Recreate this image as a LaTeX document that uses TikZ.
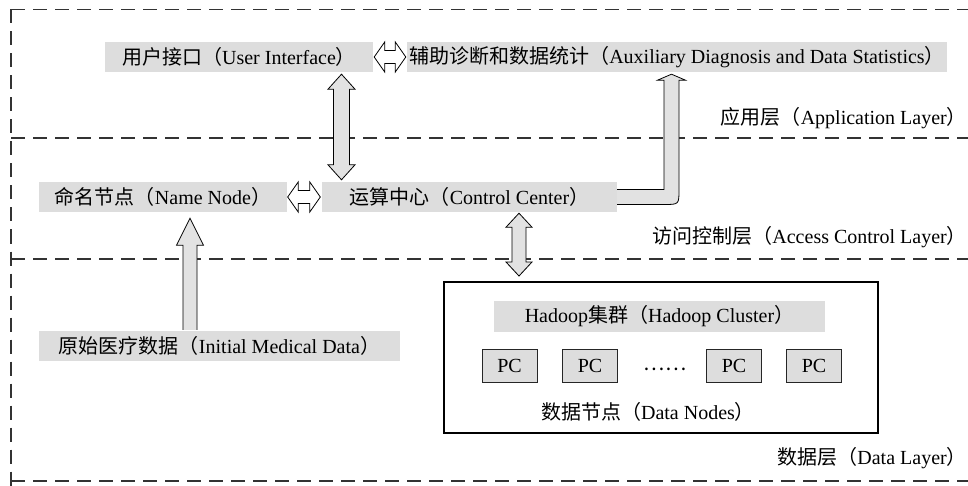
\documentclass[tikz,border=0pt]{standalone}
\usepackage{fontspec}
\setmainfont{Liberation Serif}
\newfontfamily\cjk{Noto Sans CJK SC}
\usetikzlibrary{calc}

\definecolor{boxgrey}{HTML}{DDDDDD}
\definecolor{arrowgrey}{HTML}{E2E2E2}
\definecolor{layergrey}{HTML}{333333}

\newcommand\zh[1]{{\cjk #1}}

% vertical double arrow: #1 x position, #2 upper tip, #3 lower tip,
% #4 shaft half width, #5 head half width, #6 head length
\newcommand\vdarrow[6]{%
  \draw[fatarrow] let \p1=#1, \p2=#2, \p3=#3 in
    (\x1,\y2) -- (\x1+#5,\y2-#6) -- (\x1+#4,\y2-#6) -- (\x1+#4,\y3+#6)
    -- (\x1+#5,\y3+#6) -- (\x1,\y3) -- (\x1-#5,\y3+#6) -- (\x1-#4,\y3+#6)
    -- (\x1-#4,\y2-#6) -- (\x1-#5,\y2-#6) -- cycle;}

% horizontal double arrow between a left tip #1 and a right tip #2
\newcommand\hdarrow[2]{%
  \draw[fatarrow, fill=white] let \p1=#1, \p2=#2 in
    (\x1,\y1) -- (\x1+10.5pt,\y1+15pt) -- (\x1+10.5pt,\y1+6.5pt)
    -- (\x2-10.5pt,\y1+6.5pt) -- (\x2-10.5pt,\y1+15pt) -- (\x2,\y1)
    -- (\x2-10.5pt,\y1-15pt) -- (\x2-10.5pt,\y1-6.5pt)
    -- (\x1+10.5pt,\y1-6.5pt) -- (\x1+10.5pt,\y1-15pt) -- cycle;}

\tikzset{
  x=1pt, y=-1pt,
  layerline/.style={draw=layergrey, line width=1.1pt, dash pattern=on 14pt off 8pt},
  txt/.style={inner sep=0pt, font=\fontsize{20}{24}\selectfont},
  greybox/.style={txt, fill=boxgrey, minimum height=30pt},
  pcbox/.style={txt, fill=boxgrey, draw=black!85, line width=0.8pt,
    minimum width=55pt, minimum height=33pt},
  fatarrow/.style={draw=black, line width=0.8pt, fill=arrowgrey, line join=miter},
}

\begin{document}
\begin{tikzpicture}
\useasboundingbox (0,0) rectangle (968,486);

% layer frame
\draw[layerline] (11,9.5) -- (968,9.5);
\draw[layerline] (11,9.5) -- (11,486);
\draw[layerline] (11,138) -- (968,138);
\draw[layerline] (11,259) -- (968,259);
\draw[layerline] (11,481) -- (968,481);

% layer titles
\node[txt, anchor=east] (lapp) at (967,118) {\zh{应用层（}Application Layer\zh{）}};
\node[txt, anchor=east] (lacc) at (967,237) {\zh{访问控制层（}Access Control Layer\zh{）}};
\node[txt, anchor=east] (ldat) at (967,458) {\zh{数据层（}Data Layer\zh{）}};

% application layer
\node[greybox, minimum width=268pt] (ui) at (239,57) {\zh{用户接口（}User Interface\zh{）}};
\node[greybox, minimum width=540pt] (aux) at (677,57)
  {\zh{辅助诊断和数据统计（}Auxiliary Diagnosis and Data Statistics\zh{）}};

% access control layer
\node[greybox, minimum width=248pt] (nn) at (163,197) {\zh{命名节点（}Name Node\zh{）}};
\node[greybox, minimum width=295pt] (cc) at (469.5,197) {\zh{运算中心（}Control Center\zh{）}};

% data layer
\node[greybox, minimum width=361pt] (imd) at (219.5,346) {\zh{原始医疗数据（}Initial Medical Data\zh{）}};
\node[draw=black, line width=2pt, inner sep=0pt, minimum width=434pt, minimum height=151pt]
  (hc) at (661,357.5) {};
\node[greybox, minimum width=331pt, minimum height=31pt] (hcl) at (659.5,316.5)
  {Hadoop\zh{集群（}Hadoop Cluster\zh{）}};
\node[pcbox] (pc1) at (509.5,365.5) {PC};
\node[pcbox] (pc2) at (590,365.5) {PC};
\node[txt] (dots) at (665,369) {\zh{……}};
\node[pcbox] (pc3) at (734,365.5) {PC};
\node[pcbox] (pc4) at (814,365.5) {PC};
\node[txt] (dn) at (648,412) {\zh{数据节点（}Data Nodes\zh{）}};

% horizontal links
\hdarrow{($(ui.east)+(1,0)$)}{($(aux.west)+(-1,0)$)}
\hdarrow{($(nn.east)+(0.5,0)$)}{($(cc.west)+(-1.5,0)$)}

% vertical links
\vdarrow{(341.5,0)}{($(ui.south)+(0,2)$)}{($(cc.north)+(0,-2)$)}{8pt}{13.5pt}{15pt}
\vdarrow{(519,0)}{($(cc.south)+(0,1)$)}{($(hc.north)+(0,-5)$)}{7pt}{13pt}{14pt}

% raw data feeds the name node
\path[fill=arrowgrey] let \p1=(190,0), \p2=($(nn.south)+(0,6)$), \p3=($(imd.north)+(0,-1)$) in
  (\x1-7pt,\y3) -- (\x1-7pt,\y2-27pt) -- (\x1-13.5pt,\y2-27pt) -- (\x1,\y2)
  -- (\x1+13.5pt,\y2-27pt) -- (\x1+7pt,\y2-27pt) -- (\x1+7pt,\y3) -- cycle;
\draw[fatarrow, fill=none] let \p1=(190,0), \p2=($(nn.south)+(0,6)$), \p3=($(imd.north)+(0,-1)$) in
  (\x1-7pt,\y3) -- (\x1-7pt,\y2-27pt) -- (\x1-13.5pt,\y2-27pt) -- (\x1,\y2)
  -- (\x1+13.5pt,\y2-27pt) -- (\x1+7pt,\y2-27pt) -- (\x1+7pt,\y3);

% control center reports to the statistics module
\path[fill=arrowgrey] let \p1=(cc.east), \p2=(aux.south), \p3=(671.5,0) in
  (\x1,\y1+7.5pt) -- (\x3-7.5pt,\y1+7.5pt) -- (\x3-7.5pt,\y2-8pt) -- (\x3-14pt,\y2-8pt)
  -- (\x3,\y2-2pt) -- (\x3+14pt,\y2-8pt) -- (\x3+7.5pt,\y2-8pt) -- (\x3+7.5pt,\y1+7.5pt)
  .. controls (\x3+7.5pt,\y1-7.5pt) .. (\x3-7.5pt,\y1-7.5pt) -- (\x1,\y1-7.5pt) -- cycle;
\draw[fatarrow, fill=none] let \p1=(cc.east), \p2=(aux.south), \p3=(671.5,0) in
  (\x1,\y1+7.5pt) -- (\x3-7.5pt,\y1+7.5pt) -- (\x3-7.5pt,\y2-8pt) -- (\x3-14pt,\y2-8pt)
  -- (\x3,\y2-2pt) -- (\x3+14pt,\y2-8pt) -- (\x3+7.5pt,\y2-8pt) -- (\x3+7.5pt,\y1+7.5pt)
  .. controls (\x3+7.5pt,\y1-7.5pt) .. (\x3-7.5pt,\y1-7.5pt) -- (\x1,\y1-7.5pt);
\end{tikzpicture}
\end{document}
